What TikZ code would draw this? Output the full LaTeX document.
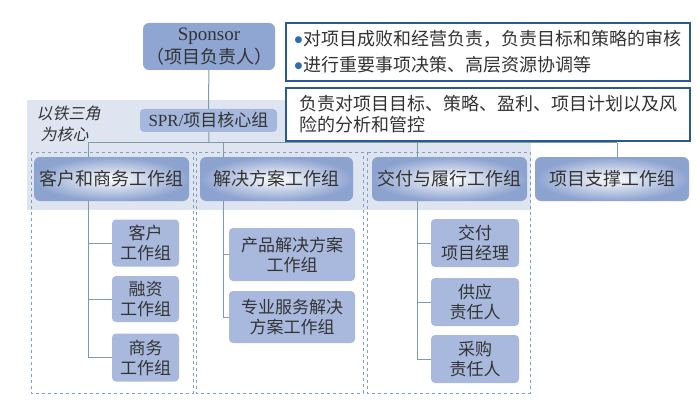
\documentclass[tikz,border=0pt]{standalone}
\usepackage{fontspec}
\setmainfont{Liberation Serif}
\newfontfamily\cjk{Noto Sans CJK SC}
\newfontfamily\cjkit[FakeSlant=0.2]{Noto Sans CJK SC}
\newfontfamily\dejavu{DejaVu Sans}
\newcommand\zi{\fontsize{17}{20}\selectfont}
\newcommand\dianhao{\raisebox{3.5pt}{\dejavu\fontsize{9}{0}\selectfont\color{dian}●}\hspace{1pt}}

\definecolor{texto}{HTML}{333333}
\definecolor{subazul}{HTML}{A9B9DE}
\definecolor{sponazul}{HTML}{8FA5D2}
\definecolor{grupoazul}{HTML}{8CA2CF}
\definecolor{banda}{HTML}{DEE5F1}
\definecolor{lineagris}{HTML}{7F9BA8}
\definecolor{marcoazul}{HTML}{819FBF}
\definecolor{notaazul}{HTML}{2A5B8C}
\definecolor{dian}{HTML}{2E6DB4}

\tikzset{
  caja/.style={rounded corners=4pt, fill=subazul, text=texto, align=center,
    inner sep=0pt, font=\cjk\zi},
  grupo/.style={rounded corners=6pt, inner color=white, outer color=grupoazul,
    text=texto, inner sep=0pt, minimum height=44pt, font=\cjk\fontsize{18}{20}\selectfont},
  linea/.style={draw=lineagris, line width=1pt},
  marco/.style={draw=marcoazul, dashed, line width=0.8pt},
  nota/.style={draw=notaazul, line width=1.6pt, fill=white, text=texto,
    inner sep=0pt, align=left}
}

\begin{document}
\begin{tikzpicture}[x=1pt,y=-1pt]
    \useasboundingbox (0,0) rectangle (700,406);
    % Franja del nucleo
    \fill[banda] (27,100) rectangle (531,210);
    \node[text=texto, font=\cjkit\fontsize{16}{21}\selectfont, align=left, anchor=north west]
      (hexin) at (33,102) {以铁三角\\\hspace{4pt}为核心};
    % Marcos punteados
    \draw[marco] (31,152) rectangle (193,393);
    \draw[marco] (196,152) rectangle (363,393);
    \draw[marco] (367,152) rectangle (530,393);
    % Sponsor y SPR
    \node[caja, fill=sponazul, rounded corners=6pt, minimum width=132pt, minimum height=47pt,
      font=\cjk\fontsize{18}{23}\selectfont] (spon) at (209,46.5) {{\rmfamily\fontsize{19}{23}\selectfont Sponsor}\\（项目负责人）};
    \node[caja, fill=subazul!90!sponazul, minimum width=137pt, minimum height=23pt]
      (spr) at (208.5,120.5) {{\rmfamily SPR/}项目核心组};
    % Notas de texto
    \node[nota, minimum width=404pt, minimum height=58pt, font=\cjk\fontsize{18}{26}\selectfont]
      (nota1) at (488,52) {\dianhao 对项目成败和经营负责，负责目标和策略的审核\\
      \dianhao 进行重要事项决策、高层资源协调等};
    \node[nota, minimum width=404pt, minimum height=53pt, font=\cjk\fontsize{18}{21}\selectfont]
      (nota2) at (488,114.5) {负责对项目目标、策略、盈利、项目计划以及风\\险的分析和管控};
    % Grupos de trabajo
    \node[grupo, minimum width=155pt] (g1) at (111.5,179) {客户和商务工作组};
    \node[grupo, minimum width=153pt] (g2) at (276.5,179) {解决方案工作组};
    \node[grupo, minimum width=155pt] (g3) at (449.5,179) {交付与履行工作组};
    \node[grupo, minimum width=154pt] (g4) at (612,179) {项目支撑工作组};
    % Subgrupos
    \node[caja, minimum width=67pt, minimum height=47pt] (c1) at (145.5,243) {客户\\工作组};
    \node[caja, minimum width=67pt, minimum height=46pt] (c2) at (145.5,299) {融资\\工作组};
    \node[caja, minimum width=67pt, minimum height=48pt] (c3) at (145.5,357.5) {商务\\工作组};
    \node[caja, minimum width=126pt, minimum height=53pt] (s1) at (292,254.5) {产品解决方案\\工作组};
    \node[caja, minimum width=126pt, minimum height=52pt] (s2) at (292,317) {专业服务解决\\方案工作组};
    \node[caja, minimum width=88pt, minimum height=48pt] (j1) at (475,243) {交付\\项目经理};
    \node[caja, minimum width=88pt, minimum height=48pt] (j2) at (475,302) {供应\\责任人};
    \node[caja, minimum width=88pt, minimum height=48pt] (j3) at (475,359) {采购\\责任人};
    % Tronco y barra
    \coordinate (bus) at (209,143);
    \coordinate (b1) at (88,143);
    \coordinate (b2) at (223,143);
    \coordinate (b3) at (417,143);
    \coordinate (b4) at (617,143);
    \draw[linea] (spon) -- (spr);
    \draw[linea] (spr) -- (bus);
    \draw[linea] (b1) -- (b4);
    \foreach \b/\g in {b1/g1, b2/g2, b3/g3, b4/g4}
      \draw[linea] (\b) -- (\b |- \g.north);
    % Ramas
    \foreach \s in {c1, c2, c3} \draw[linea] (b1 |- g1.south) |- (\s.west);
    \foreach \s in {s1, s2} \draw[linea] (b2 |- g2.south) |- (\s.west);
    \foreach \s in {j1, j2, j3} \draw[linea] (b3 |- g3.south) |- (\s.west);
\end{tikzpicture}
\end{document}
